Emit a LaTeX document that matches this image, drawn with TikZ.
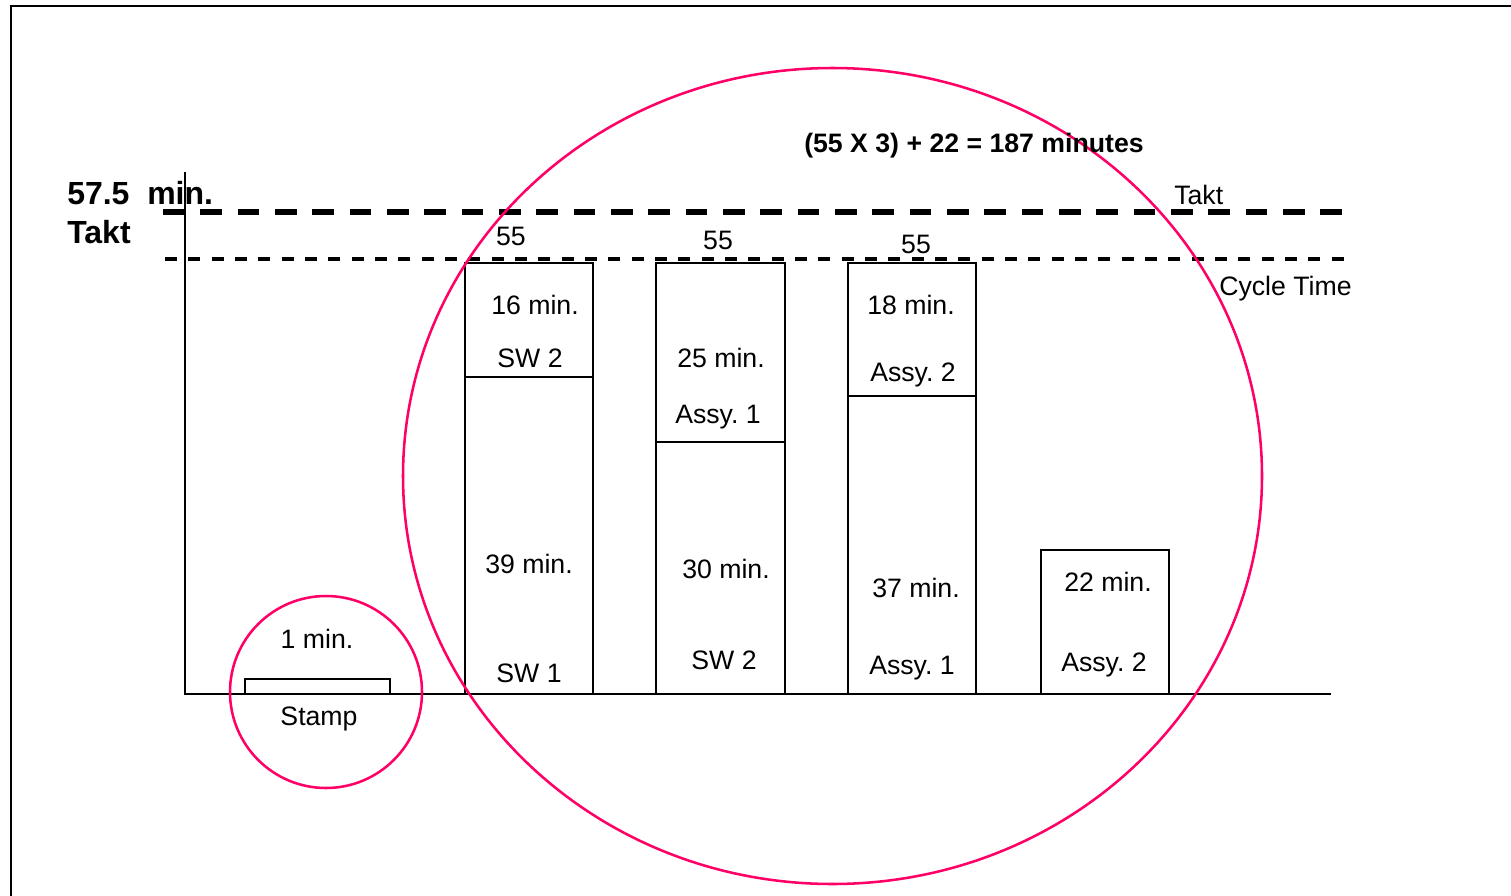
\documentclass[tikz,border=0pt]{standalone}
\usepackage{fontspec}
\setmainfont{Liberation Sans}
\frenchspacing
\definecolor{ring}{RGB}{255,0,102}
\begin{document}
\begin{tikzpicture}[x=0.75pt,y=-0.75pt,
  lbl/.style={inner sep=0pt,anchor=base,font=\fontsize{20}{24}\selectfont},
  blbl/.style={inner sep=0pt,font=\fontsize{20}{24}\selectfont\bfseries},
  biglbl/.style={inner sep=0pt,font=\fontsize{24}{28}\selectfont\bfseries,anchor=base west},
  bar/.style={draw=black,line width=1.9pt},
  axis/.style={draw=black,line width=1.8pt},
  taktline/.style={draw=black,line width=3.8pt,dash pattern=on 16.2pt off 11.8pt},
  ctline/.style={draw=black,line width=2.6pt,dash pattern=on 9pt off 8.5pt},
  ringstyle/.style={draw=ring,line width=1.9pt}]
\useasboundingbox (0,0) rectangle (1511,896);
% frame
\coordinate (ftl) at (11,6);
\coordinate (ftr) at (1511,6);
\coordinate (fbl) at (11,896);
\draw[line width=1.8pt] (ftr) -- (ftl) -- (fbl);
% axes
\coordinate (ytop) at (185,172);
\coordinate (orig) at (185,694);
\coordinate (xend) at (1331,694);
\draw[axis] (ytop) -- (orig) -- (xend);
% takt and cycle lines
\coordinate (t1) at (163,212);
\coordinate (t2) at (1343,212);
\draw[taktline] (t1) -- (t2);
\coordinate (c1) at (165,259);
\coordinate (c2) at (1346,259);
\draw[ctline] (c1) -- (c2);
% stamp
\draw[bar] (245,679) rectangle (390,694);
% bars
\draw[bar] (465,263) rectangle (593,694);
\coordinate (d1a) at (465,377); \coordinate (d1b) at (593,377);
\draw[bar] (d1a) -- (d1b);
\draw[bar] (656,263) rectangle (785,694);
\coordinate (d2a) at (656,442); \coordinate (d2b) at (785,442);
\draw[bar] (d2a) -- (d2b);
\draw[bar] (848,263) rectangle (976,694);
\coordinate (d3a) at (848,396); \coordinate (d3b) at (976,396);
\draw[bar] (d3a) -- (d3b);
\draw[bar] (1041,550) rectangle (1169,694);
% circles
\draw[ringstyle] (326,692) circle[radius=96];
\draw[ringstyle] (832.5,476) ellipse[x radius=429.5,y radius=408];
% texts
\node[biglbl] (tk1) at (67,204) {57.5\ \ min.};
\node[biglbl] (tk2) at (67,243) {Takt};
\node[blbl,anchor=base west] (sum) at (804,152.5) {(55 X 3) + 22 = 187 minutes};
\node[lbl,anchor=base west] (takt) at (1174,204.5) {Takt};
\node[lbl,anchor=base west] (cyc) at (1219,295.5) {Cycle Time};
\node[lbl] (n1) at (511,245.5) {55};
\node[lbl] (n2) at (718,249.5) {55};
\node[lbl] (n3) at (916,253.5) {55};
\node[lbl] (b1a) at (535,314.5) {16 min.};
\node[lbl] (b1b) at (530,367.5) {SW 2};
\node[lbl] (b1c) at (529,573.5) {39 min.};
\node[lbl] (b1d) at (529,682.5) {SW 1};
\node[lbl] (b2a) at (721,367.5) {25 min.};
\node[lbl] (b2b) at (718,423.5) {Assy. 1};
\node[lbl] (b2c) at (726,578.5) {30 min.};
\node[lbl] (b2d) at (724,669.5) {SW 2};
\node[lbl] (b3a) at (911,314.5) {18 min.};
\node[lbl] (b3b) at (913,381.5) {Assy. 2};
\node[lbl] (b3c) at (916,597.5) {37 min.};
\node[lbl] (b3d) at (912,674.5) {Assy. 1};
\node[lbl] (b4a) at (1108,591.5) {22 min.};
\node[lbl] (b4b) at (1104,671.5) {Assy. 2};
\node[lbl] (s1) at (317,648.5) {1 min.};
\node[lbl] (s2) at (319,725.5) {Stamp};
\end{tikzpicture}
\end{document}
